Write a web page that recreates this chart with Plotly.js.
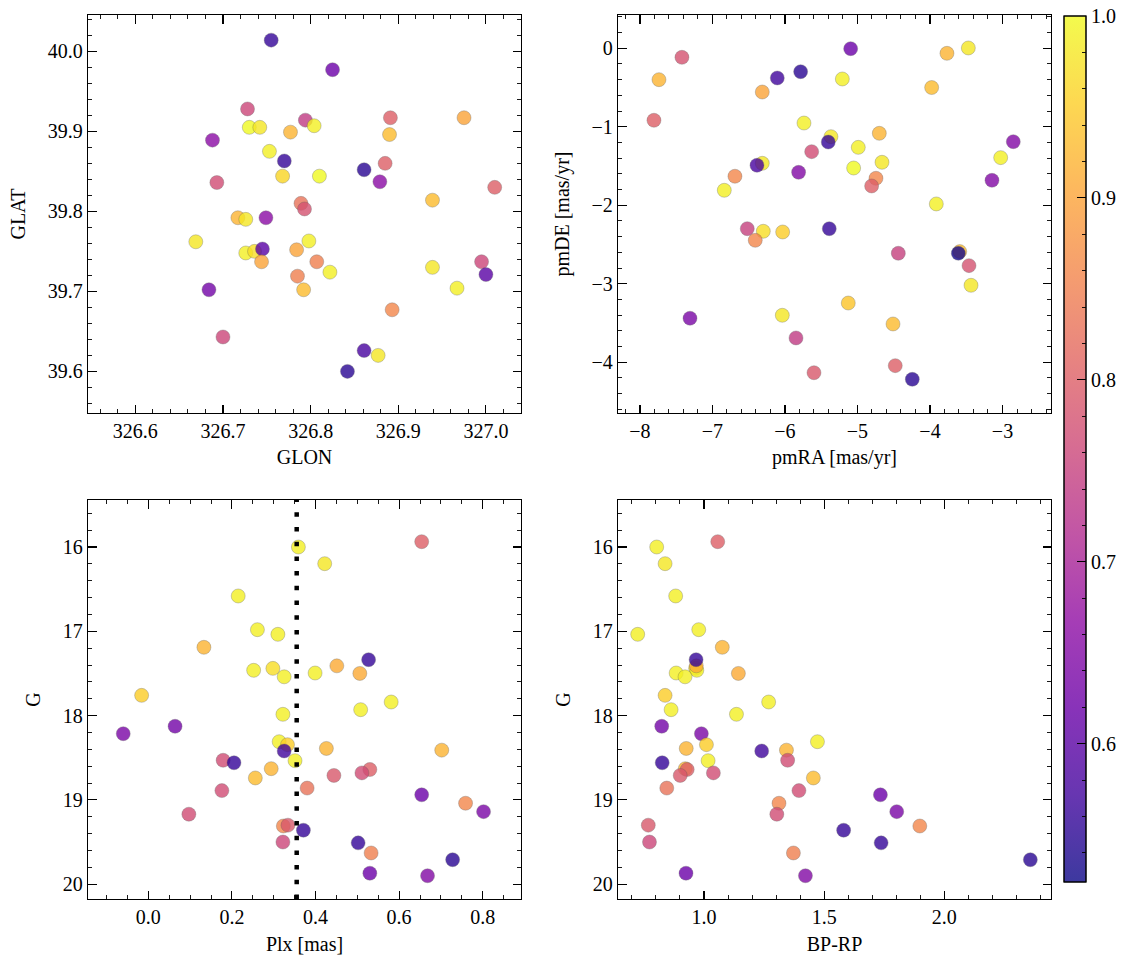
<!DOCTYPE html>
<html><head><meta charset="utf-8">
<script src="https://cdn.plot.ly/plotly-3.0.1.min.js"></script>
<style>html,body{margin:0;padding:0;background:#fff}#chart{width:1133px;height:965px}</style>
</head><body><div id="chart"></div>
<script>
// ---- Panel 1: GLON / GLAT ----
const glon = [326.755, 326.825, 326.728, 326.891, 326.975, 326.794, 326.730, 326.742, 326.804, 326.777, 326.890, 326.688, 326.753, 326.770, 326.861, 326.885, 326.768, 326.810, 326.693, 326.879, 327.010, 326.939, 326.789, 326.793, 326.717, 326.726, 326.749, 326.669, 326.798, 326.726, 326.736, 326.745, 326.784, 326.744, 326.807, 326.785, 326.822, 326.792, 326.684, 326.939, 326.995, 327.000, 326.967, 326.893, 326.700, 326.861, 326.877, 326.842];
const glat = [40.014, 39.977, 39.928, 39.917, 39.917, 39.914, 39.905, 39.905, 39.907, 39.899, 39.896, 39.889, 39.875, 39.863, 39.852, 39.860, 39.844, 39.844, 39.836, 39.837, 39.830, 39.814, 39.810, 39.803, 39.792, 39.790, 39.792, 39.762, 39.763, 39.748, 39.750, 39.753, 39.752, 39.737, 39.737, 39.719, 39.724, 39.702, 39.702, 39.730, 39.737, 39.721, 39.704, 39.677, 39.643, 39.626, 39.620, 39.600];
const probA = [0.56, 0.62, 0.76, 0.80, 0.90, 0.74, 1.00, 0.98, 0.99, 0.92, 0.93, 0.66, 0.99, 0.56, 0.55, 0.80, 0.96, 1.00, 0.77, 0.66, 0.80, 0.93, 0.83, 0.78, 0.92, 0.98, 0.66, 0.98, 0.99, 0.99, 0.97, 0.60, 0.90, 0.90, 0.85, 0.85, 0.99, 0.93, 0.63, 0.98, 0.76, 0.60, 0.99, 0.86, 0.76, 0.58, 0.98, 0.55];

// ---- Panel 2: proper motions ----
const pmra = [-7.738, -7.421, -7.807, -6.313, -6.106, -5.784, -5.094, -5.209, -3.766, -3.471, -3.977, -5.738, -5.366, -5.403, -5.632, -4.989, -4.699, -4.662, -5.053, -4.745, -4.805, -5.812, -6.313, -6.386, -6.69, -6.837, -2.851, -3.025, -3.145, -3.913, -6.52, -6.299, -6.41, -6.032, -5.389, -4.437, -3.59, -3.609, -3.462, -3.434, -5.127, -7.31, -6.037, -4.51, -5.848, -5.6, -4.479, -4.244];
const pmde = [-0.40, -0.115, -0.917, -0.557, -0.378, -0.298, -0.005, -0.391, -0.064, 0.004, -0.50, -0.952, -1.126, -1.194, -1.317, -1.262, -1.083, -1.452, -1.525, -1.656, -1.754, -1.58, -1.465, -1.49, -1.63, -1.809, -1.19, -1.393, -1.682, -1.983, -2.298, -2.331, -2.446, -2.34, -2.298, -2.611, -2.59, -2.611, -2.769, -3.019, -3.245, -3.439, -3.401, -3.512, -3.69, -4.133, -4.043, -4.217];
const probB = [0.92, 0.78, 0.80, 0.90, 0.57, 0.55, 0.62, 0.99, 0.92, 0.98, 0.93, 0.99, 0.98, 0.56, 0.77, 0.99, 0.92, 0.98, 1.00, 0.86, 0.80, 0.65, 0.98, 0.58, 0.86, 0.99, 0.65, 0.99, 0.65, 0.99, 0.75, 0.97, 0.86, 0.95, 0.56, 0.75, 0.93, 0.53, 0.78, 0.98, 0.94, 0.64, 0.98, 0.93, 0.74, 0.79, 0.80, 0.55];

// ---- Panels 3 & 4: parallax, colour, G magnitude (same stars) ----
const gmag = [15.937, 16.00, 16.198, 16.581, 16.981, 17.036, 17.19, 17.44, 17.463, 17.41, 17.337, 17.495, 17.50, 17.54, 17.76, 17.839, 17.93, 17.985, 18.127, 18.215, 18.31, 18.345, 18.39, 18.41, 18.42, 18.53, 18.535, 18.56, 18.63, 18.64, 18.68, 18.71, 18.74, 18.86, 18.89, 18.94, 19.04, 19.14, 19.17, 19.31, 19.30, 19.36, 19.50, 19.51, 19.63, 19.71, 19.87, 19.90];
const plx  = [0.654, 0.359, 0.422, 0.215, 0.261, 0.310, 0.133, 0.298, 0.252, 0.451, 0.527, 0.399, 0.506, 0.325, -0.016, 0.581, 0.508, 0.322, 0.064, -0.060, 0.313, 0.333, 0.426, 0.702, 0.325, 0.179, 0.351, 0.205, 0.294, 0.530, 0.511, 0.444, 0.256, 0.380, 0.176, 0.654, 0.759, 0.802, 0.097, 0.323, 0.334, 0.371, 0.322, 0.502, 0.533, 0.728, 0.530, 0.668];
const bprp = [1.057, 0.803, 0.838, 0.882, 0.978, 0.724, 1.076, 0.965, 0.970, 0.968, 0.967, 0.884, 1.143, 0.921, 0.838, 1.269, 0.863, 1.135, 0.824, 0.989, 1.472, 1.010, 0.926, 1.343, 1.240, 1.348, 1.017, 0.826, 0.922, 0.930, 1.039, 0.901, 1.455, 0.845, 1.395, 1.734, 1.312, 1.802, 1.303, 1.898, 0.768, 1.581, 0.773, 1.737, 1.372, 2.358, 0.925, 1.422];
const probC = [0.80, 0.99, 0.98, 0.99, 0.99, 0.99, 0.92, 0.97, 0.99, 0.91, 0.56, 0.99, 0.91, 0.99, 0.95, 0.99, 0.99, 0.99, 0.63, 0.64, 0.99, 0.95, 0.92, 0.92, 0.57, 0.77, 0.99, 0.56, 0.92, 0.80, 0.77, 0.79, 0.93, 0.83, 0.77, 0.62, 0.86, 0.64, 0.77, 0.86, 0.79, 0.56, 0.76, 0.56, 0.85, 0.55, 0.62, 0.65];

const plxCut = 0.355;
const CMIN = 0.524, CMAX = 1.0;

const plasmaStops = ['#0d0887','#41049d','#6a00a8','#8f0da4','#b12a90','#cc4778','#e16462','#f2844b','#fca636','#fcce25','#f0f921'];
const plasma = plasmaStops.map((c,i)=>[i/(plasmaStops.length-1), c]);
function blend(hex, a){
  const r=parseInt(hex.slice(1,3),16), g=parseInt(hex.slice(3,5),16), b=parseInt(hex.slice(5,7),16);
  const f=v=>Math.round(a*v+(1-a)*255);
  return 'rgb('+f(r)+','+f(g)+','+f(b)+')';
}
const plasmaBar = plasmaStops.map((c,i)=>[i/(plasmaStops.length-1), blend(c,0.8)]);
const clearScale = [[0,'rgba(0,0,0,0)'],[1,'rgba(0,0,0,0)']];

const FONT = '"Liberation Serif", "DejaVu Serif", serif';
const FS = 20;

function mk(c){
  return {color:c, colorscale:plasma, cmin:CMIN, cmax:CMAX, size:14, opacity:0.8,
          line:{color:'rgba(80,80,80,0.6)', width:0.6}, showscale:false};
}
function pts(x,y,c,xa,ya){
  return {type:'scatter', mode:'markers', x:x, y:y, xaxis:xa, yaxis:ya, marker:mk(c), hoverinfo:'x+y', showlegend:false};
}

const cbCommon = {x:1064/1133, xanchor:'left', xpad:0, y:1-449/965, yanchor:'middle', ypad:0,
  len:866, lenmode:'pixels', thickness:22, thicknessmode:'pixels',
  outlinewidth:1, outlinecolor:'#000', ticks:'inside', tickcolor:'#000'};

const traces = [
  pts(glon, glat, probA, 'x', 'y'),
  pts(pmra, pmde, probB, 'x2', 'y2'),
  pts(plx, gmag, probC, 'x3', 'y3'),
  pts(bprp, gmag, probC, 'x4', 'y4'),
  {type:'scatter', mode:'markers', x:[null], y:[null], xaxis:'x', yaxis:'y', showlegend:false, hoverinfo:'skip',
   marker:{color:[CMIN], colorscale:plasmaBar, cmin:CMIN, cmax:CMAX, showscale:true,
     colorbar:Object.assign({}, cbCommon, {ticklen:9, tickwidth:1.1, tick0:0, dtick:0.1, tickformat:'.1f',
       tickfont:{family:FONT, size:FS, color:'#000'}})}},
  {type:'scatter', mode:'markers', x:[null], y:[null], xaxis:'x', yaxis:'y', showlegend:false, hoverinfo:'skip',
   marker:{color:[CMIN], colorscale:clearScale, cmin:CMIN, cmax:CMAX, showscale:true,
     colorbar:Object.assign({}, cbCommon, {ticklen:4.5, tickwidth:0.9, tick0:0, dtick:0.02, showticklabels:false})}}
];

function ax(o){
  return Object.assign({
    showline:true, linecolor:'#000', linewidth:1.3, mirror:'allticks',
    ticks:'inside', ticklen:8.5, tickwidth:1.1, tickcolor:'#000',
    showgrid:false, zeroline:false,
    tickfont:{family:FONT, size:FS, color:'#000'}
  }, o);
}
function minor(d){ return {ticks:'inside', ticklen:4.3, tickwidth:0.9, tickcolor:'#000', dtick:d, showgrid:false}; }
function ttl(t, s){ return {text:t, standoff:s, font:{family:FONT, size:FS, color:'#000'}}; }

const dX1=[88/1133, 521/1133], dX2=[618/1133, 1051/1133];
const dYT=[1-413/965, 1-15/965], dYB=[1-899/965, 1-500/965];

const layout = {
  width:1133, height:965, margin:{l:0,r:0,t:0,b:0},
  paper_bgcolor:'#fff', plot_bgcolor:'#fff', showlegend:false,
  font:{family:FONT, size:FS, color:'#000'},
  xaxis: ax({domain:dX1, anchor:'y', range:[326.546, 327.040], dtick:0.1, tick0:326.6, tickformat:'.1f', minor:minor(0.02), title:ttl('GLON', 8)}),
  yaxis: ax({domain:dYT, anchor:'x', range:[39.548, 40.0454], dtick:0.1, tick0:39.6, tickformat:'.1f', minor:minor(0.02), title:ttl('GLAT', 16)}),
  xaxis2: ax({domain:dX2, anchor:'y2', range:[-8.303, -2.331], dtick:1, minor:minor(0.2), title:ttl('pmRA [mas/yr]', 8)}),
  yaxis2: ax({domain:dYT, anchor:'x2', range:[-4.646, 0.424], dtick:1, minor:minor(0.2), title:ttl('pmDE [mas/yr]', 16)}),
  xaxis3: ax({domain:dX1, anchor:'y3', range:[-0.1443, 0.8916], dtick:0.2, tick0:0, tickformat:'.1f', minor:minor(0.05), title:ttl('Plx [mas]', 9)}),
  yaxis3: ax({domain:dYB, anchor:'x3', range:[20.176, 15.4425], dtick:1, minor:minor(0.2), title:ttl('G', 16)}),
  xaxis4: ax({domain:dX2, anchor:'y4', range:[0.642, 2.444], dtick:0.5, tick0:0, tickformat:'.1f', minor:minor(0.1), title:ttl('BP-RP', 9)}),
  yaxis4: ax({domain:dYB, anchor:'x4', range:[20.176, 15.4425], dtick:1, minor:minor(0.2), title:ttl('G', 16)}),
  shapes:[{type:'line', xref:'x3', yref:'y3 domain', x0:plxCut, x1:plxCut, y0:0, y1:1,
           line:{color:'#000', width:4.5, dash:'4.5px,10.2px'}}]
};

Plotly.newPlot('chart', traces, layout, {staticPlot:true, displayModeBar:false});
</script></body></html>
